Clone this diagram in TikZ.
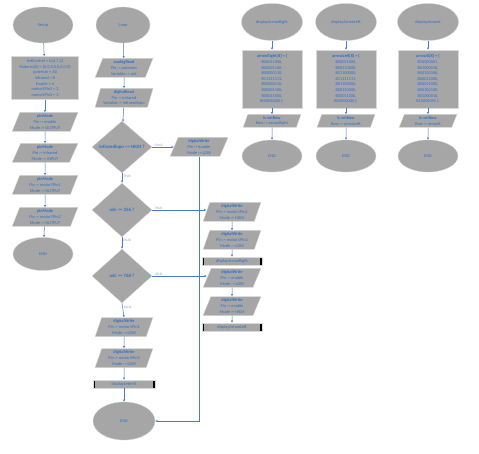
\documentclass[tikz,border=0pt]{standalone}
\usepackage{fontspec}
\setmainfont{Carlito}
\usetikzlibrary{shapes.geometric,arrows.meta}
\definecolor{boxgray}{HTML}{A6A6A6}
\definecolor{txtblue}{HTML}{2F6FC8}
\definecolor{linblue}{HTML}{4A7CC9}
\definecolor{lblgray}{HTML}{8EA2C0}
\begin{document}
\begin{tikzpicture}[x=1pt,y=-1pt,
  every node/.style={font=\fontsize{4.3}{5.6}\selectfont, text=txtblue, align=center, inner sep=0pt},
  term/.style={ellipse, fill=boxgray, draw=gray!35, line width=0.3pt, minimum width=60pt, minimum height=36pt},
  proc/.style={rectangle, fill=boxgray, draw=gray!30, line width=0.3pt, minimum width=60pt},
  io/.style={trapezium, trapezium left angle=72, trapezium right angle=108, trapezium stretches=true,
    fill=boxgray, draw=gray!30, line width=0.3pt, minimum width=58pt, minimum height=19pt},
  decision/.style={diamond, fill=boxgray, draw=gray!30, line width=0.3pt, minimum width=60pt, minimum height=54pt,
    font=\fontsize{4.8}{5.6}\selectfont\bfseries},
  subr/.style={rectangle, fill=boxgray, draw=gray!30, line width=0.3pt, minimum width=62pt, minimum height=8pt,
    path picture={\fill[black] (path picture bounding box.north west) rectangle ([xshift=2pt]path picture bounding box.south west);
      \fill[black] (path picture bounding box.north east) rectangle ([xshift=-2pt]path picture bounding box.south east);}},
  flow/.style={draw=linblue, line width=0.5pt, -{Latex[length=2.2pt,width=2.2pt]}},
  lbl/.style={font=\fontsize{3.4}{4}\selectfont, text=lblgray}
]
\useasboundingbox[fill=white] (0,0) rectangle (479,454);

% ---------- Setup ----------
\node[term] (setup) at (43,25) {Setup};
\node[proc, minimum width=67pt, minimum height=43pt] (init) at (45,78)
  {ledControl = lc(4,7,3)\\Patterns[8] = \{0,0,0,0,0,0,0,0\}\\potensio = A0\\infrared = 8\\Enable = 4\\motor1Pin1 = 2\\motor1Pin2 = 3};
\node[io, minimum width=66pt] (pm1) at (45,122) {\textbf{pinMode}\\Pin := enable\\Mode := OUTPUT};
\node[io, minimum width=66pt] (pm2) at (45,153) {\textbf{pinMode}\\Pin := infrared\\Mode := INPUT};
\node[io, minimum width=66pt] (pm3) at (45,185) {\textbf{pinMode}\\Pin := motor1Pin1\\Mode := OUTPUT};
\node[io, minimum width=66pt] (pm4) at (45,217) {\textbf{pinMode}\\Pin := motor1Pin2\\Mode := OUTPUT};
\node[term, minimum height=33pt] (end1) at (43,254) {END};
\draw[flow] (setup) -- (init);
\draw[flow] (init) -- (pm1);
\draw[flow] (pm1) -- (pm2);
\draw[flow] (pm2) -- (pm3);
\draw[flow] (pm3) -- (pm4);
\draw[flow] (pm4) -- (end1);

% ---------- Loop ----------
\node[term, minimum width=54pt] (loop) at (123,25) {Loop};
\node[io] (ar) at (124,68) {\textbf{analogRead}\\Pin := potensio\\Variable := adc};
\node[io] (dr) at (124,98) {\textbf{digitalRead}\\Pin := infrared\\Variable := infraredinpu};
\node[decision, minimum height=52pt] (d1) at (122,147) {infraredinpu == HIGH ?};
\node[decision] (d2) at (122,210) {adc <= 256 ?};
\node[decision] (d3) at (122,276) {adc >= 768 ?};
\node[io] (dw1) at (124,327) {\textbf{digitalWrite}\\Pin := motor1Pin1\\Mode := LOW};
\node[io] (dw2) at (124,358) {\textbf{digitalWrite}\\Pin := motor1Pin2\\Mode := LOW};
\node[subr] (dispX) at (124,384) {displayLetterX};
\node[term, minimum width=62pt, minimum height=38pt] (end2) at (124,421) {END};

\node[io] (dwE) at (199,147) {\textbf{digitalWrite}\\Pin := enable\\Mode := LOW};
\node[io] (dwA) at (232,212) {\textbf{digitalWrite}\\Pin := motor1Pin1\\Mode := HIGH};
\node[io] (dwB) at (232,240) {\textbf{digitalWrite}\\Pin := motor1Pin2\\Mode := LOW};
\node[subr, minimum width=60pt] (dispAR) at (232,261) {displayArrowRight};
\node[io] (dwC) at (232,278) {\textbf{digitalWrite}\\Pin := enable\\Mode := LOW};
\node[io] (dwD) at (232,306) {\textbf{digitalWrite}\\Pin := enable\\Mode := HIGH};
\node[subr, minimum width=60pt] (dispAL) at (232,327) {displayArrowLeft};

\draw[flow] (loop) -- (ar);
\draw[flow] (ar) -- (dr);
\draw[flow] (dr) -- (d1);
\draw[flow] (d1.east) -- (d1.east -| dwE.west) node[lbl, pos=0.3, above=0.5pt] {FALSE};
\draw[flow] (d1.south) -- (d2.north) node[lbl, pos=0.3, right=1pt] {TRUE};
\draw[flow] (dwE.south) |- (end2.east);
\draw[flow] (d2.east) -- (d2.east -| dwA.west) node[lbl, pos=0.12, above=0.5pt] {TRUE};
\draw[flow] (dwA) -- (dwB);
\draw[flow] (dwB) -- (dispAR);
\draw[flow] (d2.south) -- (d3.north) node[lbl, pos=0.3, right=1pt] {FALSE};
\draw[flow] (d3.east) -- (d3.east -| dwC.west) node[lbl, pos=0.12, above=0.5pt] {TRUE};
\draw[flow] (dwC) -- (dwD);
\draw[flow] (dwD) -- (dispAL);
\draw[flow] (d3.south) -- (dw1.north) node[lbl, pos=0.3, right=1pt] {FALSE};
\draw[flow] (dw1) -- (dw2);
\draw[flow] (dw2) -- (dispX);
\draw[flow] (dispX) -- (end2);

% ---------- displayArrowRight ----------
\node[term, minimum width=61pt, minimum height=37pt] (fr) at (272,22) {displayArrowRight};
\node[proc, minimum height=58pt] (frr) at (272,79)
  {\textbf{arrowRight[8] = \{}\\B00011000,\\B00001100,\\B00000110,\\B11111111,\\B00000110,\\B00001100,\\B00011000,\\B00000000 \};};
\node[io, minimum height=13pt] (frs) at (272,121) {\textbf{lc.setRow}\\Row := arrowRight};
\node[term, minimum height=32pt] (fre) at (272,156) {END};
\draw[flow] (fr) -- (frr);
\draw[flow] (frr) -- (frs);
\draw[flow] (frs) -- (fre);

% ---------- displayArrowLeft ----------
\node[term, minimum width=61pt, minimum height=37pt] (fl) at (346,22) {displayArrowLeft};
\node[proc, minimum height=58pt] (flr) at (346,79)
  {\textbf{arrowLeft[8] = \{}\\B00011000,\\B00110000,\\B01100000,\\B11111111,\\B01100000,\\B00110000,\\B00011000,\\B00000000 \};};
\node[io, minimum height=13pt] (fls) at (346,121) {\textbf{lc.setRow}\\Row := arrowLeft};
\node[term, minimum height=32pt] (fle) at (346,156) {END};
\draw[flow] (fl) -- (flr);
\draw[flow] (flr) -- (fls);
\draw[flow] (fls) -- (fle);

% ---------- displayArrowX ----------
\node[term, minimum width=61pt, minimum height=37pt] (fx) at (428,22) {displayArrowX};
\node[proc, minimum height=58pt] (fxr) at (428,79)
  {\textbf{arrowX[8] = \{}\\B10000001,\\B01000010,\\B00100100,\\B00011000,\\B00011000,\\B00100100,\\B01000010,\\B10000001 \};};
\node[io, minimum height=13pt] (fxs) at (428,121) {\textbf{lc.setRow}\\Row := arrowX};
\node[term, minimum height=32pt] (fxe) at (428,156) {END};
\draw[flow] (fx) -- (fxr);
\draw[flow] (fxr) -- (fxs);
\draw[flow] (fxs) -- (fxe);
\end{tikzpicture}
\end{document}
